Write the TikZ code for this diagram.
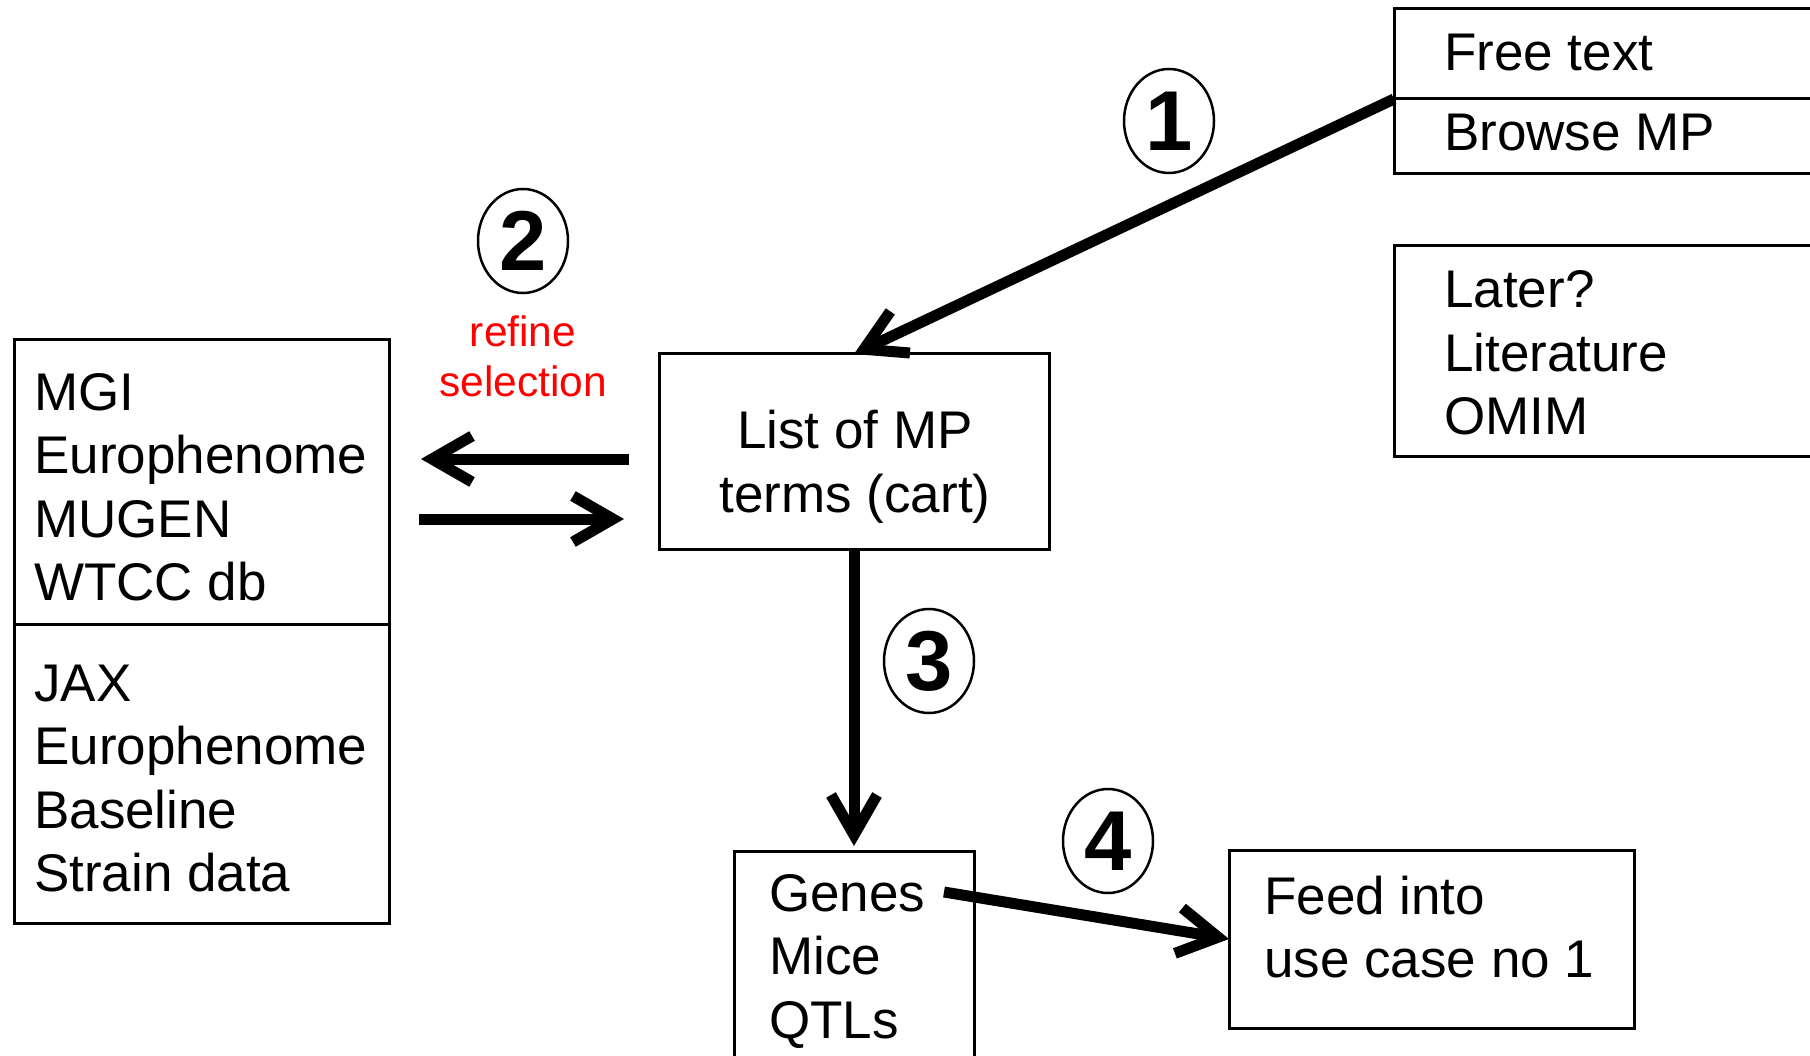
\documentclass[tikz,border=0pt]{standalone}
\usepackage{fontspec}
\setmainfont{Liberation Sans}
\usetikzlibrary{arrows.meta,shapes.geometric}
\begin{document}
\begin{tikzpicture}[x=1pt,y=-1pt,
  box/.style={draw, line width=3pt, inner sep=0pt, outer sep=0pt, anchor=north west},
  txt/.style={inner sep=0pt, anchor=base west, font=\fontsize{53pt}{63.5pt}\selectfont},
  ctxt/.style={txt, anchor=base},
  num/.style={draw, ellipse, line width=2.5pt, minimum width=90pt, minimum height=104pt,
              inner sep=0pt, font=\fontsize{85pt}{90pt}\selectfont\bfseries},
  arr/.style={line width=11pt, -{Straight Barb[length=40pt,width=46pt]}},
  note/.style={text=red, inner sep=0pt, anchor=base, font=\fontsize{42.5pt}{50pt}\selectfont}
]
\clip (0,0) rectangle (1810,1056);

% query entry points (top right)
\node[box, minimum width=450pt, minimum height=90pt] (free) at (1394,9) {};
\node[box, minimum width=450pt, minimum height=75pt] (browse) at (1394,99) {};
\node[txt] (freeT) at (1444,71) {Free text};
\node[txt] (browseT) at (1444,151) {Browse MP};

\node[box, minimum width=450pt, minimum height=210pt] (later) at (1394,246) {};
\node[txt] (laterT) at (1444,308) {\begin{tabular}[t]{@{}l@{}}Later?\\Literature\\OMIM\end{tabular}};

% cart of MP terms
\node[box, minimum width=390pt, minimum height=195pt] (list) at (659,354) {};
\node[ctxt] (listT) at (855,449) {\begin{tabular}[t]{@{}c@{}}List of MP\\terms (cart)\end{tabular}};

% data sources (left)
\node[box, minimum width=375pt, minimum height=284pt] (srcA) at (14,340) {};
\node[box, minimum width=375pt, minimum height=299pt] (srcB) at (14,624) {};
\node[txt] (srcAT) at (34,410) {\begin{tabular}[t]{@{}l@{}}MGI\\Europhenome\\MUGEN\\WTCC db\end{tabular}};
\node[txt] (srcBT) at (34,701) {\begin{tabular}[t]{@{}l@{}}JAX\\Europhenome\\Baseline\\Strain data\end{tabular}};

% results
\node[box, minimum width=240pt, minimum height=230pt] (genes) at (734,851) {};
\node[txt] (genesT) at (769,911) {\begin{tabular}[t]{@{}l@{}}Genes\\Mice\\QTLs\end{tabular}};

\node[box, minimum width=405pt, minimum height=178pt] (feed) at (1229,850) {};
\node[txt] (feedT) at (1264,914) {\begin{tabular}[t]{@{}l@{}}Feed into\\use case no 1\end{tabular}};

% step numbers
\node[num] (c1) at (1169,121) {1};
\node[num] (c2) at (523,241) {2};
\node[num] (c3) at (929,661) {3};
\node[num] (c4) at (1108,841) {4};

\node[note] (refine) at (523,347) {\begin{tabular}[t]{@{}c@{}}refine\\selection\end{tabular}};

% connectors
\draw[arr] (free.south west) -- (list.north);
\draw[arr] ([xshift=-30pt]list.west |- 0,459) -- ([xshift=32pt]srcA.east |- 0,459);
\draw[arr] ([xshift=30pt]srcA.east |- 0,519) -- ([xshift=-35pt]list.west |- 0,519);
\draw[arr] (list.south) -- ([yshift=5pt]genes.north);
\coordinate (g4) at (944,892);
\draw[arr] (g4) -- (feed.west);
\end{tikzpicture}
\end{document}
